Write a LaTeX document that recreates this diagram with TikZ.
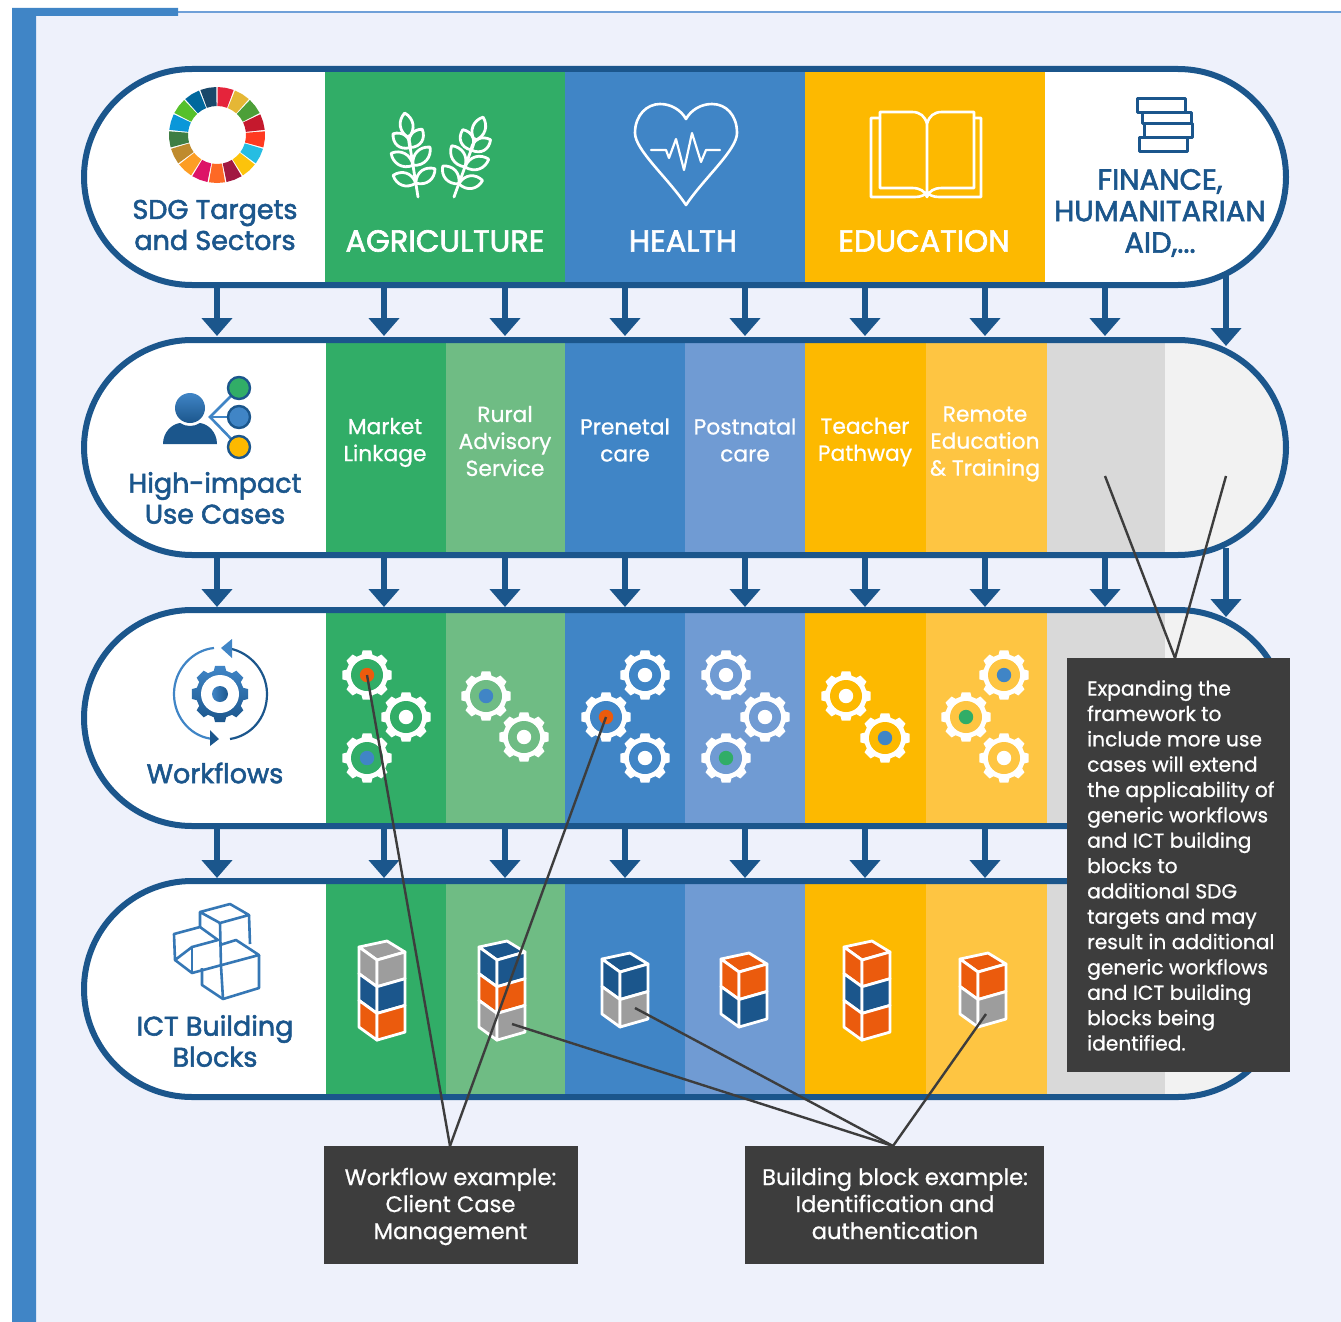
\documentclass[tikz,border=0pt]{standalone}
\usepackage{fontspec}
\setmainfont{Poppins}
\newfontfamily\heavyfont[FakeBold=2.1]{Poppins}
\newfontfamily\midfont[FakeBold=0.8]{Poppins}
\usetikzlibrary{arrows.meta}
\definecolor{pagebg}{HTML}{EEF1FB}
\definecolor{frame}{HTML}{4085C6}
\definecolor{lineblue}{HTML}{6FA0D8}
\definecolor{navy}{HTML}{1B568C}
\definecolor{cgreen}{HTML}{31AD67}
\definecolor{lgreen}{HTML}{6FBC84}
\definecolor{cblue}{HTML}{4085C6}
\definecolor{lblue}{HTML}{709BD3}
\definecolor{cyellow}{HTML}{FDB900}
\definecolor{lyellow}{HTML}{FEC542}
\definecolor{cgrey}{HTML}{D9D9D9}
\definecolor{lgrey}{HTML}{F2F2F2}
\definecolor{corange}{HTML}{EB5B0D}
\definecolor{bgrey}{HTML}{9D9D9D}
\definecolor{boxc}{HTML}{3D3D3D}
\newcommand{\band}[3]{% top, bottom, columns
  \fill[white] (84,#1) [rounded corners=108pt] rectangle (1286,#2);
  \begin{scope}
    \clip (84,#1) [rounded corners=108pt] rectangle (1286,#2);
    #3
  \end{scope}
  \draw[navy,line width=6pt] (84,#1) [rounded corners=108pt] rectangle (1286,#2);
}
\newcommand{\subcols}[2]{%
  \fill[cgreen] (326,#1) rectangle (446,#2);
  \fill[lgreen] (446,#1) rectangle (565,#2);
  \fill[cblue] (565,#1) rectangle (685,#2);
  \fill[lblue] (685,#1) rectangle (805,#2);
  \fill[cyellow] (805,#1) rectangle (926,#2);
  \fill[lyellow] (926,#1) rectangle (1047,#2);
  \fill[cgrey] (1047,#1) rectangle (1165,#2);
  \fill[lgrey] (1165,#1) rectangle (1290,#2);
}
\newcommand{\gearpath}[2]{% root, tip radius
  (-15:#1) \foreach \a in {0,45,...,315} { -- ({\a-15}:#1) -- ({\a-10}:#2) -- ({\a+10}:#2) -- ({\a+15}:#1) } -- cycle
}
\newcommand{\smallgear}[4]{%
  \begin{scope}[shift={(#1,#2)}]
    \fill[white] \gearpath{21}{25};
    \fill[#3] (0,0) circle (16);
    \fill[#4] (0,0) circle (7.2);
  \end{scope}
}
\newcommand{\cubestack}[4]{% x, y of front-top vertex, cube height, colours
  \begin{scope}[shift={(#1,#2)},line width=2.8pt,draw=white,line join=round]
    \foreach \c [count=\n from 0] in {#4} {
      \ifnum\n=0
        \filldraw[fill=\c] (-18,-13) -- (10,-19) -- (28,-8) -- (0,0) -- cycle;
      \fi
      \filldraw[fill=\c] (-18,{-13+\n*#3}) -- (0,{\n*#3}) -- (0,{(\n+1)*#3}) -- (-18,{-13+(\n+1)*#3}) -- cycle;
      \filldraw[fill=\c] (0,{\n*#3}) -- (28,{-8+\n*#3}) -- (28,{-8+(\n+1)*#3}) -- (0,{(\n+1)*#3}) -- cycle;
    }
  \end{scope}
}
\newcommand{\wheatleaf}[3]{% y on stem, angle, length
  \draw[shift={(0,#1)},rotate=#2] (0,0) .. controls (9,{-#3*0.3}) and (8,{-#3*0.75}) .. (0,-#3) .. controls (-8,{-#3*0.75}) and (-9,{-#3*0.3}) .. (0,0);
}
\newcommand{\wheat}[3]{%
  \begin{scope}[shift={(#1,#2)},rotate=#3,white,line width=2.8pt,line cap=round,line join=round]
    \draw (0,0) -- (0,-62);
    \wheatleaf{-14}{62}{24}
    \wheatleaf{-14}{-62}{24}
    \wheatleaf{-32}{52}{25}
    \wheatleaf{-32}{-52}{25}
    \wheatleaf{-50}{42}{22}
    \wheatleaf{-50}{-42}{22}
    \wheatleaf{-60}{0}{25}
  \end{scope}
}
\tikzset{
  head/.style={font=\heavyfont\fontsize{27}{31}\selectfont,text=navy,align=center,inner sep=0pt},
  sector/.style={font=\heavyfont\fontsize{30.5}{31}\selectfont,text=white,align=center,inner sep=0pt},
  usecase/.style={font=\midfont\fontsize{21.8}{27}\selectfont,text=white,align=center,inner sep=0pt},
  darkbox/.style={fill=boxc,inner sep=0pt},
  boxtext/.style={text=white,font=\midfont\fontsize{22.6}{27}\selectfont,align=center,inner sep=0pt},
  flow/.style={navy,line width=6pt,-{Triangle[length=18pt,width=30pt]}},
  leader/.style={boxc,line width=2.4pt},
  iconline/.style={navy,line width=3pt,line join=round},
  whiteline/.style={white,line width=2.6pt,line join=round,line cap=round},
}
\begin{document}
\begin{tikzpicture}[x=1pt,y=-1pt]
\useasboundingbox (0,0) rectangle (1341,1322);
\fill[white] (0,0) rectangle (1341,1322);
\fill[pagebg] (36,12) rectangle (1341,1322);
\draw[lineblue,line width=2pt] (178,12) -- (1341,12);
\fill[frame] (12,8) -- (178,8) -- (178,16) -- (36,16) -- (36,1322) -- (12,1322) -- cycle;

% band 1
\band{69}{285}{%
  \fill[cgreen] (325,69) rectangle (565,285);
  \fill[cblue] (565,69) rectangle (805,285);
  \fill[cyellow] (805,69) rectangle (1045,285);
}
\band{340}{555}{\subcols{340}{555}}
\band{610}{826}{\subcols{610}{826}}
\band{881}{1097}{\subcols{881}{1097}}

% arrows
\foreach \x in {217,384,505,625,745,865,985,1105} {
  \coordinate (ra\x) at (\x,285); \coordinate (rb\x) at (\x,336);
  \draw[flow] (ra\x) -- (rb\x);
  \coordinate (rc\x) at (\x,555); \coordinate (rd\x) at (\x,607);
  \draw[flow] (rc\x) -- (rd\x);
}
\foreach \x in {217,384,505,625,745,865,985} {
  \coordinate (re\x) at (\x,826); \coordinate (rf\x) at (\x,878);
  \draw[flow] (re\x) -- (rf\x);
}
\coordinate (ras) at (1226,275); \coordinate (rae) at (1226,346);
\draw[flow] (ras) -- (rae);
\coordinate (rbs) at (1226,548); \coordinate (rbe) at (1226,617);
\draw[flow] (rbs) -- (rbe);

% SDG wheel
\begin{scope}[shift={(217,135)}]
\foreach \i/\c in {0/E5243B,1/E5B735,2/4C9F38,3/C5192D,4/FF3A21,5/26BDE2,6/FCC30B,7/A21942,8/FD6925,9/DD1367,10/FD9D24,11/BF8B2E,12/3F7E44,13/0A97D9,14/56C02B,15/00689D,16/19486A} {
  \definecolor{seg}{HTML}{\c}
  \pgfmathsetmacro{\sa}{-90+\i*21.176+0.9}
  \pgfmathsetmacro{\sb}{\sa+19.4}
  \pgfmathsetmacro{\sm}{\sa+9.7}
  \fill[seg] (\sa:48) -- (\sm:48) -- (\sb:48) -- (\sb:29) -- (\sm:29) -- (\sa:29) -- cycle;
}
\end{scope}

% wheat
\wheat{418}{197}{9}
\wheat{454}{197}{-20}

% heart
\draw[whiteline] (686,205) .. controls (668,178) and (635,150) .. (635,133) .. controls (635,115) and (647,104) .. (660,104) .. controls (671,104) and (681,110) .. (686,119) .. controls (691,110) and (701,104) .. (712,104) .. controls (726,104) and (737,115) .. (737,133) .. controls (737,150) and (704,178) .. (686,205) -- cycle;
\draw[white,line width=2.2pt,line join=round,line cap=round] (651,150) -- (666,150) -- (669,158) -- (676,139) -- (684,170) -- (692,133) -- (701,162) -- (706,150) -- (720,150);

% book
\draw[whiteline] (880,118) -- (871,118) -- (871,197) -- (915,197) .. controls (921,197) and (925,195) .. (927,192) .. controls (929,195) and (933,197) .. (939,197) -- (981,197) -- (981,118) -- (974,118);
\draw[whiteline] (927,197) -- (927,124) .. controls (925,116) and (920,112) .. (912,112) -- (880,112) -- (880,188) -- (912,188) .. controls (920,188) and (925,191) .. (927,197) .. controls (929,191) and (934,188) .. (942,188) -- (974,188) -- (974,112) -- (942,112) .. controls (934,112) and (929,116) .. (927,124);

% books
\draw[iconline] (1137,98) rectangle (1185,112);
\draw[iconline] (1142,112) rectangle (1191,123);
\draw[iconline] (1144,123) rectangle (1192,137);
\draw[iconline] (1139,137) rectangle (1187,151);

% person
\draw[frame,line width=2.6pt] (239,388) -- (210,417) -- (239,447);
\draw[frame,line width=2.6pt] (210,417) -- (239,417);
\shade[top color=frame,bottom color=navy] (190,408) circle (15);
\fill[navy] (163,444) .. controls (163,432) and (172,424) .. (180,423) .. controls (186,427) and (194,427) .. (200,423) .. controls (208,424) and (217,432) .. (217,444) -- cycle;
\filldraw[draw=navy,fill=cgreen,line width=2.4pt] (239,388) circle (11);
\filldraw[draw=navy,fill=cblue,line width=2.4pt] (239,417) circle (11);
\filldraw[draw=navy,fill=cyellow,line width=2.4pt] (239,447) circle (11);

% workflow icon
\begin{scope}[shift={(220,694)}]
  \shade[top color=frame,bottom color=navy] \gearpath{24}{28.5};
  \fill[white] (0,0) circle (19);
  \shade[left color=frame,right color=navy] (0,0) circle (8);
  \draw[frame,line width=2.2pt] (-6,-46) .. controls (-27,-44) and (-46,-25) .. (-46,0) .. controls (-46,25) and (-27,44) .. (-6,45);
  \fill[navy] (-10,36) -- (-1,45) -- (-10,52) -- cycle;
  \draw[navy,line width=2.2pt] (10,45) .. controls (30,42) and (47,25) .. (47,0) .. controls (47,-25) and (27,-44) .. (6,-46);
  \fill[frame] (12,-55) -- (1,-46) -- (12,-36) -- cycle;
\end{scope}

% blocks icon
\begin{scope}[draw=frame!70!navy,line width=2.6pt,line join=round]
  \draw (200,927) -- (200,912) -- (230,904) -- (249,915) -- (220,923) -- (200,912);
  \draw (220,923) -- (221,966);
  \draw (249,915) -- (250,944);
  \draw (175,960) -- (174,934) -- (200,927) -- (218,940) -- (192,947) -- cycle;
  \draw (175,960) -- (192,973) -- (259,955) -- (236,940) -- (220,945);
  \draw (192,947) -- (192,973);
  \draw (202,968) -- (202,985) -- (223,999) -- (259,988) -- (259,955);
  \draw (221,966) -- (223,999);
\end{scope}

% gears
\smallgear{367}{675}{cgreen}{corange}
\smallgear{406}{717}{cgreen}{white}
\smallgear{367}{758}{cgreen}{cblue}
\smallgear{486}{696}{lgreen}{cblue}
\smallgear{524}{737}{lgreen}{white}
\smallgear{645}{675}{cblue}{white}
\smallgear{606}{717}{cblue}{corange}
\smallgear{645}{758}{cblue}{white}
\smallgear{726}{675}{lblue}{white}
\smallgear{765}{717}{lblue}{white}
\smallgear{726}{758}{lblue}{cgreen}
\smallgear{846}{696}{cyellow}{white}
\smallgear{885}{738}{cyellow}{cblue}
\smallgear{1004}{675}{lyellow}{cblue}
\smallgear{966}{717}{lyellow}{cgreen}
\smallgear{1004}{758}{lyellow}{white}

% stacks
\cubestack{377}{960}{26.7}{bgrey,navy,corange}
\cubestack{497}{960}{26.7}{navy,corange,bgrey}
\cubestack{620}{972}{27.5}{navy,bgrey}
\cubestack{739}{972}{27.5}{corange,navy}
\cubestack{862}{960}{26.7}{corange,navy,corange}
\cubestack{978}{972}{27.5}{corange,bgrey}

% text
\node[head] (t1) at (215,225) {SDG Targets\\and Sectors};
\node[head] (t2) at (215,498) {High-impact\\Use Cases};
\node[head] (t3) at (215,773) {Workflows};
\node[head] (t4) at (215,1041) {ICT Building\\Blocks};
\node[sector] (s1) at (445,241) {AGRICULTURE};
\node[sector] (s2) at (683,241) {HEALTH};
\node[sector] (s3) at (924,241) {EDUCATION};
\node[head,font=\heavyfont\fontsize{29}{31.5}\selectfont] (s4) at (1160,213) {FINANCE,\\HUMANITARIAN\\AID,...};
\node[usecase] (u1) at (385,442.5) {Market\\Linkage};
\node[usecase] (u2) at (505,441) {Rural\\Advisory\\Service};
\node[usecase] (u3) at (625,440) {Prenetal\\care};
\node[usecase] (u4) at (745,440) {Postnatal\\care};
\node[usecase] (u5) at (865,442) {Teacher\\Pathway};
\node[usecase] (u6) at (985,444) {Remote\\Education\\\& Training};

% leader targets
\coordinate (w1) at (367,675);
\coordinate (w2) at (606,717);
\coordinate (b1) at (512,1024);
\coordinate (b2) at (635,1008);
\coordinate (b3) at (986,1014);
\coordinate (g1) at (1105,476);
\coordinate (g2) at (1226,476);

% boxes
\node[darkbox,minimum width=254pt,minimum height=118pt] (boxa) at (451,1205) {};
\node[boxtext] (boxat) at (450.5,1206.5) {Workflow example:\\Client Case\\Management};
\node[darkbox,minimum width=299pt,minimum height=118pt] (boxb) at (894.5,1205) {};
\node[boxtext] (boxbt) at (895,1203.5) {Building block example:\\Identification and\\authentication};
\node[darkbox,minimum width=223pt,minimum height=414pt] (boxc) at (1178.5,865) {};
\node[text=white,font=\midfont\fontsize{20.2}{25.35}\selectfont,align=left,inner sep=0pt,anchor=north west] (boxct) at (1087,680) {Expanding the\\framework to\\include more use\\cases will extend\\the applicability of\\generic workflows\\and ICT building\\blocks to\\additional SDG\\targets and may\\result in additional\\generic workflows\\and ICT building\\blocks being\\identified.};

\coordinate (aa) at (450,1146);
\coordinate (ab) at (893,1146);
\coordinate (ac) at (1175,658);
\draw[leader] (aa) -- (w1);
\draw[leader] (aa) -- (w2);
\draw[leader] (ab) -- (b1);
\draw[leader] (ab) -- (b2);
\draw[leader] (ab) -- (b3);
\draw[leader] (ac) -- (g1);
\draw[leader] (ac) -- (g2);
\end{tikzpicture}
\end{document}
